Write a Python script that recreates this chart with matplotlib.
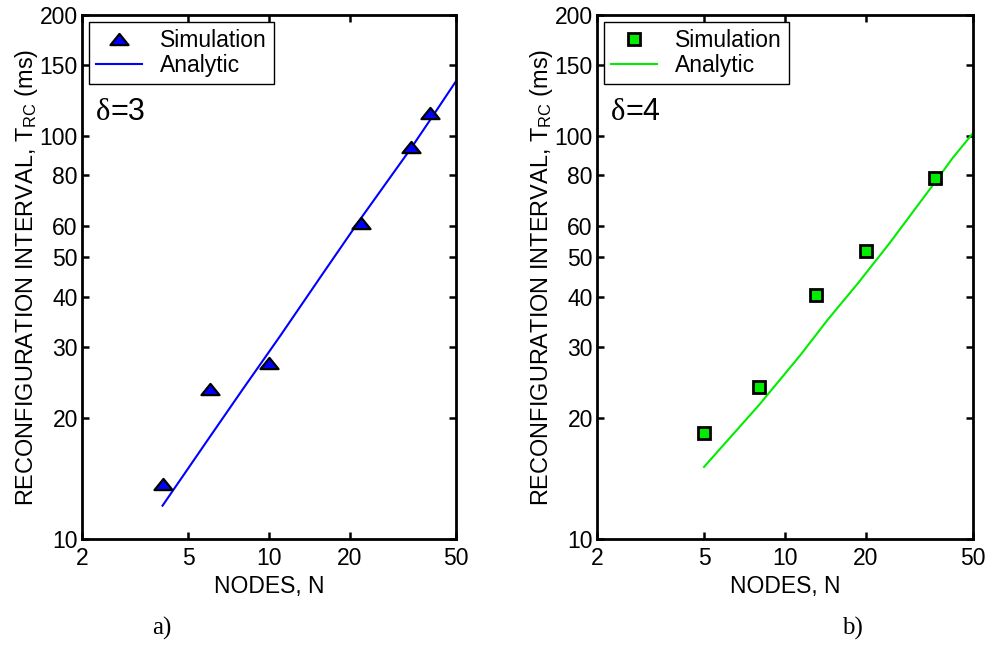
import matplotlib
matplotlib.use("Agg")
import matplotlib.pyplot as plt
from matplotlib.path import Path
from matplotlib.ticker import FixedLocator, FixedFormatter, NullLocator

plt.rcParams['font.family'] = ['Liberation Sans', 'DejaVu Sans']
plt.rcParams['mathtext.fontset'] = 'custom'
plt.rcParams['mathtext.rm'] = 'Liberation Sans'
plt.rcParams['mathtext.it'] = 'Liberation Sans:italic'

# ---- data ----
sim_a_N = [4, 6, 10, 22, 34, 40]
sim_a_T = [13.7, 23.6, 27.3, 60.8, 94.0, 114.0]
ana_a_N = [4, 6, 8, 11, 16, 22, 34, 40, 50]
ana_a_T = [12.1, 17.9, 23.6, 31.9, 45.9, 62.4, 93.5, 109.7, 137.0]

sim_b_N = [5, 8, 13, 20, 36]
sim_b_T = [18.3, 23.8, 40.3, 51.9, 78.8]
ana_b_N = [5, 8, 11.4, 14.4, 18.7, 24.5, 35.5, 42, 50]
ana_b_T = [15.1, 21.5, 28.6, 35.0, 43.2, 54.3, 75.7, 88.3, 101.8]

xticks = [2, 5, 10, 20, 50]
yticks = [10, 20, 30, 40, 50, 60, 80, 100, 150, 200]
xtick_labels = ['2', '5', '10', '20', '50']
ytick_labels = ['10', '20', '30', '40', '50', '60', '80', '100', '150', '200']

BLUE = (0, 0, 1)
GREEN = (0, 0.93, 0)
FS = 16.5

tri = Path([(0, 0.62), (-1, -0.62), (1, -0.62), (0, 0.62)],
           [Path.MOVETO, Path.LINETO, Path.LINETO, Path.CLOSEPOLY])

fig = plt.figure(figsize=(9.87, 6.45), dpi=100)
ax1 = fig.add_axes([82/987, 1-539/645, 374/987, 524/645])
ax2 = fig.add_axes([597/987, 1-539/645, 376/987, 524/645])

def style(ax):
    ax.set_xscale('log')
    ax.set_yscale('log')
    ax.set_xlim(2, 50)
    ax.set_ylim(10, 200)
    ax.xaxis.set_major_locator(FixedLocator(xticks))
    ax.xaxis.set_major_formatter(FixedFormatter(xtick_labels))
    ax.yaxis.set_major_locator(FixedLocator(yticks))
    ax.yaxis.set_major_formatter(FixedFormatter(ytick_labels))
    ax.xaxis.set_minor_locator(NullLocator())
    ax.yaxis.set_minor_locator(NullLocator())
    ax.tick_params(which='major', direction='in', length=5, width=1.8,
                   top=True, right=True, labelsize=FS)
    ax.tick_params(axis='y', pad=3)
    ax.tick_params(axis='x', pad=6)
    for s in ax.spines.values():
        s.set_linewidth(2)
    ax.set_xlabel('NODES, N', fontsize=FS, labelpad=3)
    ax.set_ylabel(r'RECONFIGURATION INTERVAL, T$_{\mathrm{RC}}$ (ms)',
                  fontsize=16.9, labelpad=0)

style(ax1)
style(ax2)

ax1.plot(sim_a_N, sim_a_T, linestyle='none', marker=tri, ms=13,
         mfc=BLUE, mec='black', mew=1.6, label='Simulation', zorder=3)
ax1.plot(ana_a_N, ana_a_T, color=BLUE, lw=1.5, label='Analytic', zorder=2)

ax2.plot(sim_b_N, sim_b_T, linestyle='none', marker='s', ms=8.5,
         mfc=GREEN, mec='black', mew=2, label='Simulation', zorder=3)
ax2.plot(ana_b_N, ana_b_T, color=GREEN, lw=1.5, label='Analytic', zorder=2)

for ax, lab in ((ax1, '3'), (ax2, '4')):
    leg = ax.legend(loc='upper left', fontsize=FS, frameon=True, fancybox=False,
                    framealpha=1, edgecolor='black', borderaxespad=0.3,
                    handlelength=2.0, handletextpad=0.8, borderpad=0.3,
                    labelspacing=0.1)
    leg.get_frame().set_linewidth(1.0)
    d = ax.text(0.038, 0.80, '\u03b4', transform=ax.transAxes,
                fontsize=22, family=['Liberation Serif', 'DejaVu Serif'],
                va='baseline', ha='left')
    ax.annotate('=' + lab, xy=(1, 0), xycoords=d, va='bottom', ha='left',
                fontsize=22)

fig.text(162/987, 1-628/645, 'a)', family=['Liberation Serif'], fontsize=18,
         ha='center', va='center')
fig.text(852/987, 1-628/645, 'b)', family=['Liberation Serif'], fontsize=18,
         ha='center', va='center')

fig.savefig('out.png', dpi=100)
